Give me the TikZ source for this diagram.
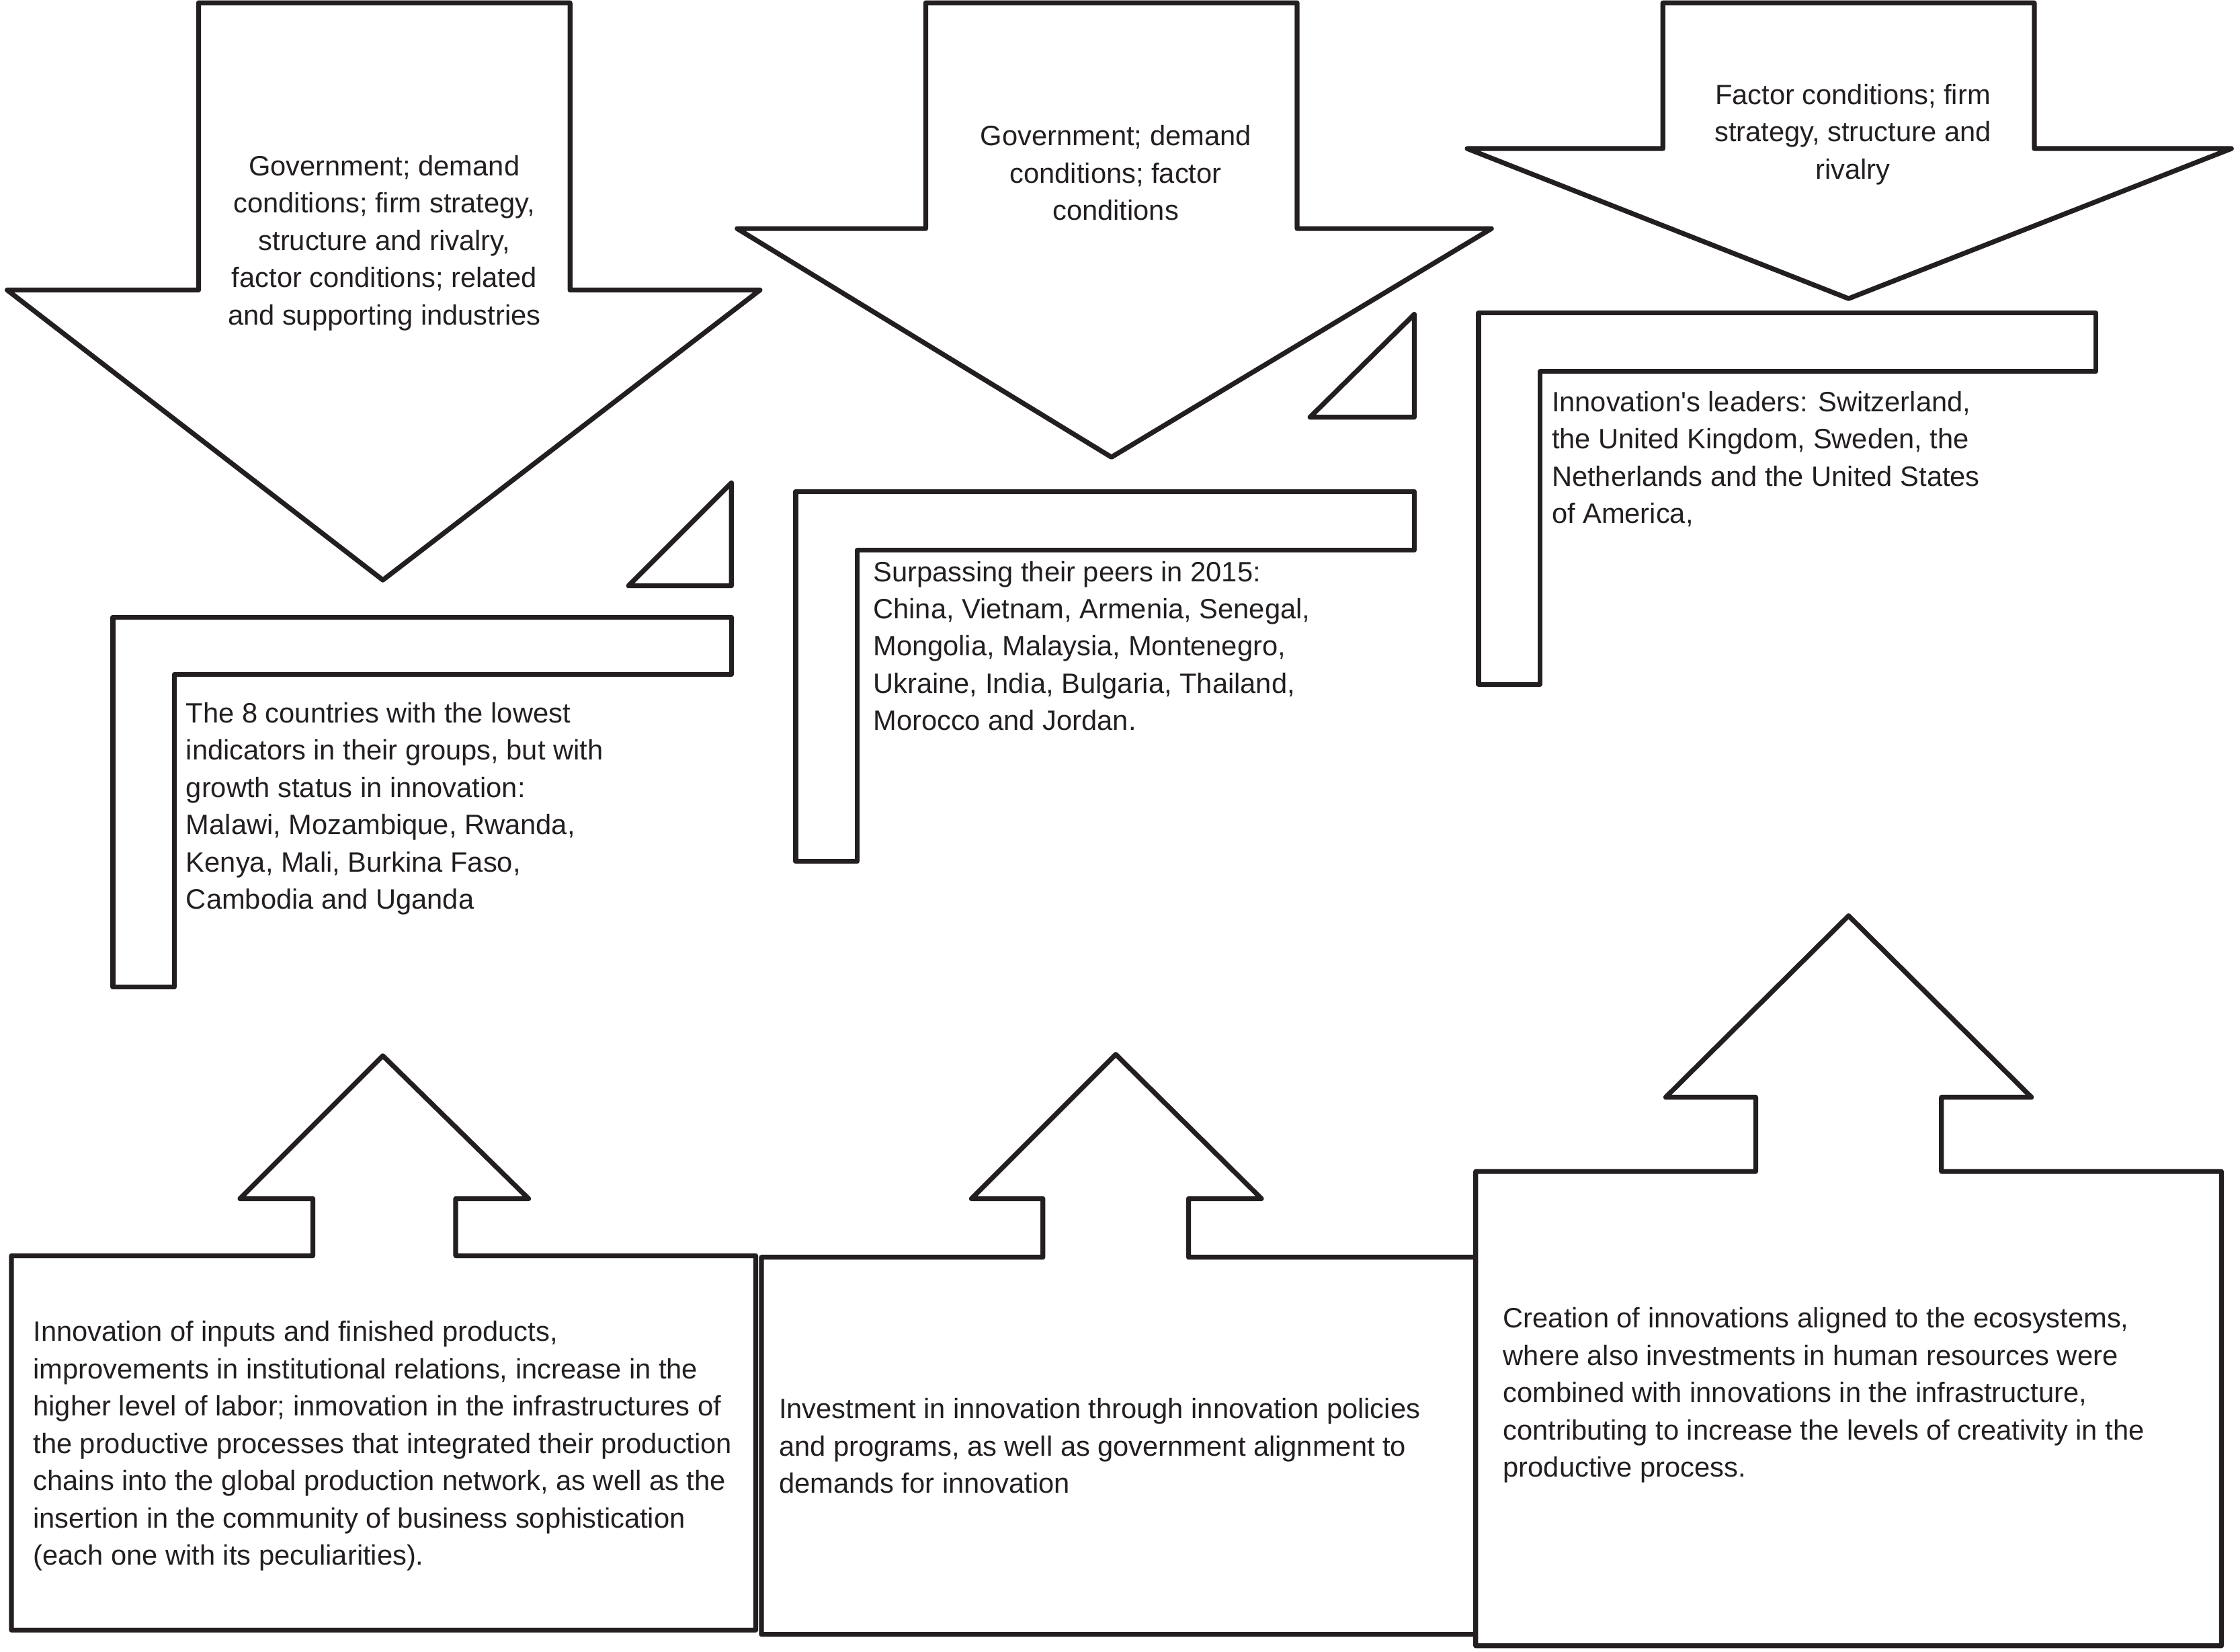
\documentclass[tikz,border=0pt]{standalone}
\usepackage{fontspec}
\setmainfont{Liberation Sans}
\definecolor{ink}{RGB}{35,31,32}
\begin{document}
\begin{tikzpicture}[x=0.25mm,y=-0.25mm,
  outl/.style={draw=ink, line width=0.85mm, line join=round, fill=white},
  txt/.style={inner sep=0pt, font=\fontsize{13.94pt}{18.55pt}\selectfont, text=ink}]
\useasboundingbox (0,0) rectangle (1568,1156);
% down arrows
\draw[outl] (139,2) -- (399,2) -- (399,203) -- (532,203) -- (268,406) -- (5,203) -- (139,203) -- cycle;
\draw[outl] (648,2) -- (908,2) -- (908,160) -- (1044,160) -- (778,320) -- (516,160) -- (648,160) -- cycle;
\draw[outl] (1164,2) -- (1424,2) -- (1424,104) -- (1562,104) -- (1294,209) -- (1027,104) -- (1164,104) -- cycle;
% small triangles
\draw[outl] (440,410) -- (512,410) -- (512,338) -- cycle;
\draw[outl] (917,292) -- (990,292) -- (990,220) -- cycle;
% L shapes
\draw[outl] (79,432) -- (512,432) -- (512,472) -- (122,472) -- (122,691) -- (79,691) -- cycle;
\draw[outl] (557,344) -- (990,344) -- (990,385) -- (600,385) -- (600,603) -- (557,603) -- cycle;
\draw[outl] (1035,219) -- (1467,219) -- (1467,260) -- (1078,260) -- (1078,479) -- (1035,479) -- cycle;
% boxes with up arrows
\draw[outl] (8,879) -- (219,879) -- (219,839) -- (168,839) -- (268,739) -- (370,839) -- (319,839) -- (319,879) -- (529,879) -- (529,1141) -- (8,1141) -- cycle;
\draw[outl] (533,880) -- (730,880) -- (730,839) -- (680,839) -- (781,738) -- (883,839) -- (832,839) -- (832,880) -- (1033,880) -- (1033,1144) -- (533,1144) -- cycle;
\draw[outl] (1033,820) -- (1229,820) -- (1229,768) -- (1166,768) -- (1294,641) -- (1422,768) -- (1359,768) -- (1359,820) -- (1555,820) -- (1555,1152) -- (1033,1152) -- cycle;
% texts
\node[txt, anchor=north, align=center] (a1) at (269,108.5) {Government; demand\\conditions; firm strategy,\\structure and rivalry,\\factor conditions; related\\and supporting industries};
\node[txt, anchor=north, align=center] (a2) at (781,87.5) {Government; demand\\conditions; factor\\conditions};
\node[txt, anchor=north, align=center] (a3) at (1297,58.5) {Factor conditions; firm\\strategy, structure and\\rivalry};
\node[txt, anchor=north west, align=left] (l1) at (130,491.5) {The 8 countries with the lowest\\indicators in their groups, but with\\growth status in innovation:\\Malawi, Mozambique, Rwanda,\\Kenya, Mali, Burkina Faso,\\Cambodia and Uganda};
\node[txt, anchor=north west, align=left] (l2) at (611,392.5) {Surpassing their peers in 2015:\\China, Vietnam, Armenia, Senegal,\\Mongolia, Malaysia, Montenegro,\\Ukraine, India, Bulgaria, Thailand,\\Morocco and Jordan.};
\node[txt, anchor=north west, align=left] (l3) at (1086,273.5) {Innovation\textquotesingle s leaders: Switzerland,\\the United Kingdom, Sweden, the\\Netherlands and the United States\\of America,};
\node[txt, anchor=north west, align=left] (b1) at (23,924.5) {Innovation of inputs and finished products,\\improvements in institutional relations, increase in the\\higher level of labor; inmovation in the infrastructures of\\the productive processes that integrated their production\\chains into the global production network, as well as the\\insertion in the community of business sophistication\\(each one with its peculiarities).};
\node[txt, anchor=north west, align=left] (b2) at (545,978.5) {Investment in innovation through innovation policies\\and programs, as well as government alignment to\\demands for innovation};
\node[txt, anchor=north west, align=left] (b3) at (1052,915) {Creation of innovations aligned to the ecosystems,\\where also investments in human resources were\\combined with innovations in the infrastructure,\\contributing to increase the levels of creativity in the\\productive process.};
\end{tikzpicture}
\end{document}
